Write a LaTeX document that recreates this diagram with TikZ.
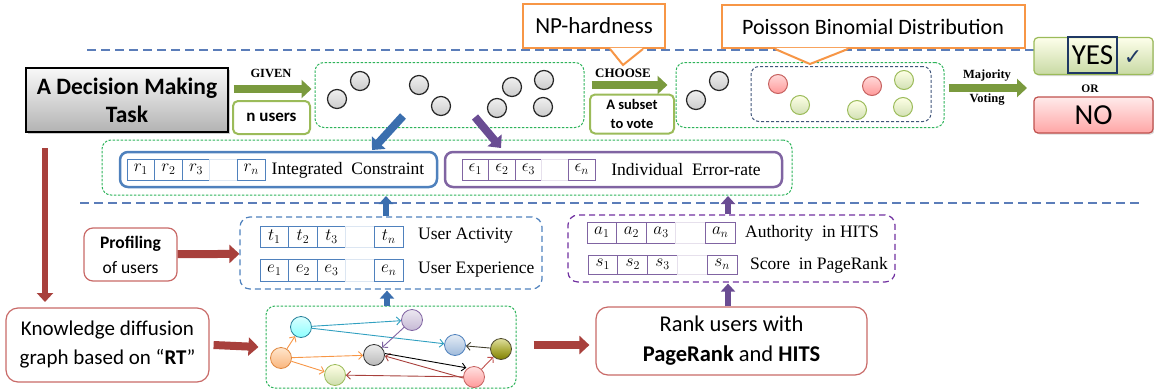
\documentclass[tikz,border=0pt]{standalone}
\usepackage{fontspec}
\setmainfont{Liberation Serif}
\setsansfont{Carlito}
\newfontfamily\dejavu{DejaVu Sans}
\usetikzlibrary{arrows.meta,shadows,calc}
\definecolor{ogreen}{HTML}{9BBB59}
\definecolor{dgreen}{HTML}{7A9A3E}
\definecolor{ored}{HTML}{C0504D}
\definecolor{dred}{HTML}{A8403C}
\definecolor{oblue}{HTML}{4F81BD}
\definecolor{dblue}{HTML}{3A6EAE}
\definecolor{opurple}{HTML}{8064A2}
\definecolor{dpurple}{HTML}{6A4C93}
\definecolor{oorange}{HTML}{F79646}
\definecolor{navy}{HTML}{1F3864}
\definecolor{dashgreen}{HTML}{2DB35A}
\definecolor{lineblue}{HTML}{5B7DB9}
\definecolor{vpurple}{HTML}{7030A0}
\definecolor{teal1}{HTML}{31A0C0}
\newcommand{\fsz}[2]{\fontsize{#1}{#2}\selectfont}
\tikzset{
  gbox/.style={draw=dashgreen, line width=1pt, dash pattern=on 2.5pt off 1.5pt, rounded corners=9pt},
  sepline/.style={draw=lineblue, line width=1.3pt, dash pattern=on 9pt off 5pt},
  garrow/.style={draw=dgreen, line width=8pt, -{Triangle[length=10pt,width=18pt]}},
  rarrow/.style={draw=dred, line width=8pt, -{Triangle[length=10pt,width=18pt]}},
  barrow/.style={draw=dblue, line width=6.5pt, -{Triangle[length=8pt,width=14pt]}},
  parrow/.style={draw=dpurple, line width=6.5pt, -{Triangle[length=8pt,width=14pt]}},
  user/.style={circle, draw=black!85, line width=1.2pt, minimum size=19pt, inner sep=0pt, top color=gray!12, bottom color=gray!40},
  ruser/.style={circle, draw=ored!90, line width=1pt, minimum size=19pt, inner sep=0pt, top color=red!15, bottom color=red!40},
  guser/.style={circle, draw=ogreen, line width=1pt, minimum size=19pt, inner sep=0pt, top color=green!5!yellow!10, bottom color=ogreen!45},
  label/.style={font=\bfseries\fsz{12.5}{14}, inner sep=0pt},
  sublbl/.style={draw=ogreen, line width=2pt, rounded corners=5pt, fill=white, font=\sffamily\bfseries},
  callout/.style={draw=oorange, line width=2pt, fill=white, inner sep=0pt},
  cell/.style={draw=#1, line width=0.8pt, minimum height=21pt, inner sep=0pt, font=\fsz{17}{20}},
  rowtxt/.style={font=\fsz{17.5}{20}, inner sep=0pt},
  redbox/.style={draw=ored!85, line width=1.2pt, fill=white, align=center, font=\sffamily},
  gnode/.style={circle, inner sep=0pt, minimum size=21pt, line width=0.8pt},
  gedge/.style={line width=0.9pt, -{Straight Barb[length=4pt,width=8pt]}}
}
\begin{document}
\begin{tikzpicture}[x=1pt,y=-1pt]
\useasboundingbox (0,0) rectangle (1154,391);

% separator lines
\coordinate (s1a) at (87,50);
\coordinate (s1b) at (1036,50);
\coordinate (s2a) at (80,203);
\coordinate (s2b) at (1143,203);
\draw[sepline] (s1a) -- (s1b);
\draw[sepline] (s2a) -- (s2b);

% decision task
\node[draw=black, line width=1.3pt, top color=gray!5, bottom color=gray!60, minimum width=202pt, minimum height=64pt, align=center, font=\sffamily\bfseries\fsz{23.5}{28}, drop shadow={shadow xshift=2pt, shadow yshift=-2pt, opacity=0.4}] (dec) at (127,100) {A Decision Making\\Task};

% users box 1
\node[gbox, minimum width=269pt, minimum height=65pt] (u1) at (449.5,95) {};
\foreach \p [count=\i] in {(337,99),(360,81),(419,85),(441,106),(512,87),(497,108),(544,80),(543,107)}
  \node[user] (ua\i) at \p {};

\node[sublbl, minimum width=77pt, minimum height=33pt, font=\sffamily\bfseries\fsz{17}{20}] (nu) at (271.5,117.5) {n users};
\node[label] (given) at (271,73) {GIVEN};
\draw[garrow] ([xshift=5pt,yshift=11pt]dec.east) -- ([xshift=-3pt,yshift=6pt]u1.west);

% users box 2
\node[gbox, minimum width=268pt, minimum height=65pt] (u2) at (810,95) {};
\node[draw=navy!85, line width=1pt, dash pattern=on 3pt off 2pt, rounded corners=8pt, minimum width=180pt, minimum height=55pt] (inner) at (841,94) {};
\node[user] (ub1) at (696,100) {};
\node[user] (ub2) at (719,81) {};
\node[ruser] (v1) at (778,84) {};
\node[guser] (v2) at (800,105) {};
\node[ruser] (v3) at (872,86) {};
\node[guser] (v4) at (857,110) {};
\node[guser] (v5) at (904,80) {};
\node[guser] (v6) at (903,107) {};

\node[sublbl, minimum width=84pt, minimum height=39pt, align=center, font=\sffamily\bfseries\fsz{14.5}{19}] (sub) at (632,114) {A subset\\to vote};
\node[label, font=\bfseries\fsz{13}{14}] (choose) at (623,73) {CHOOSE};
\draw[garrow] ([xshift=7pt,yshift=10pt]u1.east) -- ([xshift=-8pt,yshift=10pt]u2.west);

% majority voting
\node[label] (maj) at (987,76) {Majority};
\node[label] (vot) at (987,100) {Voting};
\node[draw=ogreen, line width=1.2pt, rounded corners=4pt, top color=green!8!yellow!8, bottom color=ogreen!55, minimum width=119pt, minimum height=37pt, drop shadow={shadow xshift=1.5pt, shadow yshift=-1.5pt, opacity=0.3}] (yes) at (1093.5,56) {};
\node[draw=navy, line width=2pt, minimum width=49pt, minimum height=36pt, inner sep=0pt, font=\sffamily\fsz{29}{30}] (yestxt) at (1092.5,55) {YES};
\node[font=\dejavu\fsz{22}{24}, text=navy, inner sep=0pt] (check) at (1133,58) {✓};
\node[label, font=\bfseries\fsz{11.5}{13}] (or) at (1090,89) {OR};
\node[draw=ored, line width=1.2pt, rounded corners=4pt, top color=red!8, bottom color=red!35, minimum width=119pt, minimum height=36pt, font=\sffamily\fsz{29}{30}, drop shadow={shadow xshift=1.5pt, shadow yshift=-1.5pt, opacity=0.3}] (no) at (1093.5,115) {NO};
\coordinate (mvend) at (1027,88);
\draw[garrow] ([xshift=4pt,yshift=7pt]u2.east) -- (mvend);

% callouts
\node[callout, minimum width=142pt, minimum height=44pt, font=\sffamily\fsz{23}{26}] (np) at (594,26) {NP-hardness};
\fill[white] ([xshift=16pt,yshift=1.2pt]np.south) -- ([xshift=29pt,yshift=-16pt]np.south) -- ([xshift=49pt,yshift=1.2pt]np.south) -- cycle;
\draw[draw=oorange, line width=2pt, line join=miter] ([xshift=16pt]np.south) -- ([xshift=29pt,yshift=-16pt]np.south) -- ([xshift=49pt]np.south);

\node[callout, minimum width=303pt, minimum height=43pt, font=\sffamily\fsz{22}{26}] (pbd) at (873,26.5) {Poisson Binomial Distribution};
\fill[white] ([xshift=-98pt,yshift=1.2pt]pbd.south) -- ([xshift=-63pt,yshift=-15pt]pbd.south) -- ([xshift=-25pt,yshift=1.2pt]pbd.south) -- cycle;
\draw[draw=oorange, line width=2pt, line join=miter] ([xshift=-98pt]pbd.south) -- ([xshift=-63pt,yshift=-15pt]pbd.south) -- ([xshift=-25pt]pbd.south);

% middle box
\node[gbox, minimum width=690pt, minimum height=55pt] (mid) at (447,167.5) {};
\node[draw=oblue, line width=2.5pt, rounded corners=8pt, minimum width=317pt, minimum height=35pt] (ic) at (278.5,169.5) {};
\node[draw=opurple, line width=2.5pt, rounded corners=8pt, minimum width=337pt, minimum height=35pt] (ie) at (613.5,169.5) {};
\foreach \l/\c [count=\i] in {r_1/oblue, r_2/oblue, r_3/oblue, {}/oblue!20, r_n/oblue}
  \node[cell=\c, minimum width=27.6pt] (r\i) at ({127+27.6*(\i-0.5)},169.5) {$\l$};
\foreach \l/\c [count=\i] in {\epsilon_1/opurple, \epsilon_2/opurple, \epsilon_3/opurple, {}/opurple!20, \epsilon_n/opurple}
  \node[cell=\c, minimum width=26.6pt] (eps\i) at ({462+26.6*(\i-0.5)},169.5) {$\l$};
\node[rowtxt] (ictxt) at (348,170) {Integrated\ \ Constraint};
\node[rowtxt] (ietxt) at (686,170) {Individual\ \ Error-rate};

\coordinate (ba1) at (403,116);
\coordinate (ba2) at (372,150);
\coordinate (pa1) at (475,117);
\coordinate (pa2) at (501,148);
\draw[barrow, line width=8pt, -{Triangle[length=10pt,width=18pt]}] (ba1) -- (ba2);
\draw[parrow, line width=8pt, -{Triangle[length=10pt,width=18pt]}] (pa1) -- (pa2);

% profiling
\node[redbox, rounded corners=9pt, minimum width=93pt, minimum height=53pt, font=\sffamily\fsz{17.5}{25}] (prof) at (130.5,254.5) {\textbf{Profiling}\\of users};
\node[draw=oblue, line width=1.2pt, dash pattern=on 6pt off 4pt, rounded corners=10pt, minimum width=302pt, minimum height=72pt] (ua) at (391,253) {};
\foreach \l/\c [count=\i] in {t_1/oblue, t_2/oblue, t_3/oblue, {}/oblue!20, t_n/oblue}
  \node[cell=\c, minimum width=28.6pt] (t\i) at ({260+28.6*(\i-0.5)},236.5) {$\l$};
\foreach \l/\c [count=\i] in {e_1/oblue, e_2/oblue, e_3/oblue, {}/oblue!20, e_n/oblue}
  \node[cell=\c, minimum width=28.6pt, minimum height=22pt] (x\i) at ({260+28.6*(\i-0.5)},270) {$\l$};
\node[rowtxt, anchor=west] (uatxt) at (418,236) {User Activity};
\node[rowtxt, anchor=west] (uetxt) at (418,270) {User Experience};
\draw[rarrow] (prof) -- (ua);

\node[draw=vpurple, line width=1.2pt, dash pattern=on 6pt off 4pt, rounded corners=10pt, minimum width=327pt, minimum height=67pt] (ha) at (731.5,248.5) {};
\foreach \l/\c [count=\i] in {a_1/opurple, a_2/opurple, a_3/opurple, {}/opurple!20, a_n/opurple}
  \node[cell=\c, minimum width=29.6pt] (a\i) at ({587+29.6*(\i-0.5)},232.5) {$\l$};
\foreach \l/\c [count=\i] in {s_1/opurple, s_2/opurple, s_3/opurple, {}/opurple!20, s_n/opurple}
  \node[cell=\c, minimum width=29.8pt, minimum height=19pt] (s\i) at ({588+29.8*(\i-0.5)},264.5) {$\l$};
\node[rowtxt, anchor=west] (hatxt) at (745,233) {Authority\ \ in\ HITS};
\node[rowtxt, anchor=west] (prtxt) at (750,265) {Score\ \ in\ PageRank};

% vertical red arrow
\coordinate (va1) at (45,148);
\coordinate (va2) at (45,302);
\draw[rarrow, line width=6.5pt, -{Triangle[length=9pt,width=16pt]}] (va1) -- (va2);

% bottom row
\node[redbox, rounded corners=12pt, minimum width=203pt, minimum height=74pt, font=\sffamily\fsz{21}{29}] (know) at (107.5,345) {Knowledge diffusion\\graph based on “\textbf{RT}”};
\node[gbox, minimum width=250pt, minimum height=82pt] (gb) at (391,347) {};
\node[redbox, rounded corners=12pt, minimum width=271pt, minimum height=68pt, font=\sffamily\fsz{22.5}{30}] (rank) at (731.5,341) {Rank users with\\\textbf{PageRank} and \textbf{HITS}};
\draw[rarrow] ([xshift=4pt]know.east) -- ([xshift=-7pt]gb.west);
\draw[rarrow] ([xshift=17pt,yshift=2pt]gb.east) -- ([xshift=-6pt,yshift=-4pt]rank.west);

% graph
\node[gnode, draw=teal1!80!black, top color=cyan!15, bottom color=cyan!45] (gc) at (301,327) {};
\node[gnode, draw=opurple, top color=opurple!15, bottom color=opurple!45] (gp) at (412,320) {};
\node[gnode, draw=oorange!90!black, top color=orange!20, bottom color=oorange!70] (go) at (281,358) {};
\node[gnode, draw=black!80, top color=gray!15, bottom color=gray!55] (gg) at (374,355) {};
\node[gnode, draw=ogreen, top color=yellow!10, bottom color=ogreen!50] (gy) at (335,375) {};
\node[gnode, draw=oblue, top color=oblue!15, bottom color=oblue!55] (gb1) at (455,345) {};
\node[gnode, draw=black!60!olive, top color=olive!25, bottom color=olive!60!gray] (gl) at (501,349) {};
\node[gnode, draw=ored!90, top color=red!12, bottom color=red!40] (gk) at (474,377) {};
\draw[gedge, draw=teal1] (gc) -- (gp);
\draw[gedge, draw=teal1] (gc) -- (gb1);
\draw[gedge, draw=oorange] (go) -- (gc);
\draw[gedge, draw=oorange] (go) -- (gg);
\draw[gedge, draw=oorange] (go) -- (gy);
\draw[gedge, draw=opurple] (gp) -- (gg);
\draw[gedge, draw=black!70!olive] (gl) -- (gb1);
\draw[gedge, draw=ored] (gk) -- (gl);
\draw[gedge, draw=dred] (gk) -- (gy);
\draw[gedge, draw=dred] ([yshift=-1pt]gk.west) -- ([yshift=-1pt]gg.east);
\draw[gedge, draw=black] ([yshift=1.5pt]gg.east) -- ([yshift=1.5pt]gk.north west);

% small up arrows
\coordinate (bu1) at (386,196);
\coordinate (pu1) at (728,196);
\draw[barrow] ([xshift=-5pt]ua.north) -- (bu1);
\draw[barrow] ([xshift=-4pt]gb.north) -- ([xshift=-4pt,yshift=-1pt]ua.south);
\draw[parrow] ([xshift=-3.5pt]ha.north) -- (pu1);
\draw[parrow] ([xshift=-3.5pt]rank.north) -- ([xshift=-3.5pt,yshift=-1pt]ha.south);
\end{tikzpicture}
\end{document}
